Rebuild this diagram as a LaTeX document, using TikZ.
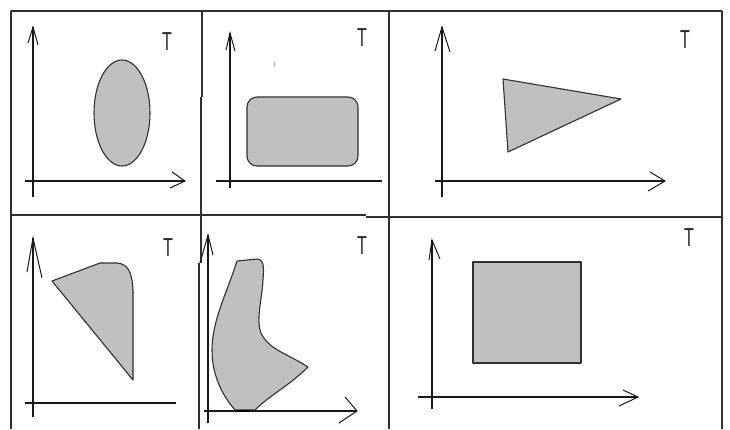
\documentclass[tikz,border=0pt]{standalone}
\usepackage{fontspec}
\setmainfont{Liberation Sans}
\definecolor{shade}{HTML}{C0C0C0}
\definecolor{ink}{HTML}{303030}
\newcommand{\Tmark}{\scalebox{0.62}[1]{T}}
\begin{document}
\begin{tikzpicture}[x=1pt,y=-1pt,
  frame/.style={line width=1.4pt, draw=ink},
  axis/.style={line width=1.3pt, draw=black!90},
  tipline/.style={line width=1pt, draw=black!90},
  region/.style={draw=ink, line width=1.1pt, fill=shade, line join=round},
  tlabel/.style={inner sep=0pt, font=\fontsize{26}{26}\selectfont, text=black!85}]
\useasboundingbox (0,0) rectangle (730,429);
% frame lines
\draw[frame] (11,11) -- (722,11);
\draw[frame] (11,11) -- (11,429);
\draw[frame] (722,11) -- (722,429);
\draw[frame] (389,11) -- (389,429);
\draw[frame] (202,11) -- (202,97) (201,97) -- (201,263) (199,263) -- (199,429);
\draw[frame] (11,215) -- (366,215) (366,217) -- (722,217);

% ---------- panel 1 ----------
\coordinate (a1y0) at (33,197); \coordinate (a1y1) at (33,27);
\coordinate (a1x0) at (25,181); \coordinate (a1x1) at (185,181);
\draw[axis] (a1y0) -- (a1y1);
\draw[axis] (a1x0) -- (a1x1);
\draw[tipline] (28,43) -- (a1y1) -- (38,45);
\draw[tipline] (172,172) -- (a1x1) -- (170,188);
\draw[region] (122,113) ellipse [x radius=28, y radius=53];
\node[tlabel] (t1) at (167,42) {\Tmark};

% ---------- panel 2 ----------
\coordinate (a2y0) at (230,188); \coordinate (a2y1) at (230,33);
\coordinate (a2x0) at (216,181); \coordinate (a2x1) at (382,181);
\draw[axis] (a2y0) -- (a2y1);
\draw[axis] (a2x0) -- (a2x1);
\draw[tipline] (226,50) -- (a2y1) -- (235,51);
\draw[region, rounded corners=10pt] (247,97) rectangle (358,166);
\draw[line width=0.8pt, draw=black!35] (274,62) -- (274,67);
\node[tlabel] (t2) at (362,38) {\Tmark};

% ---------- panel 3 ----------
\coordinate (a3y0) at (442,197); \coordinate (a3y1) at (442,27);
\coordinate (a3x0) at (435,181); \coordinate (a3x1) at (665,181);
\draw[axis] (a3y0) -- (a3y1);
\draw[axis] (a3x0) -- (a3x1);
\draw[tipline] (435,51) -- (a3y1) -- (450,52);
\draw[tipline] (650,172) -- (a3x1) -- (648,191);
\draw[region] (503,79) -- (621,99) -- (508,152) -- cycle;
\node[tlabel] (t3) at (685,40) {\Tmark};

% ---------- panel 4 ----------
\coordinate (a4y0) at (33,417); \coordinate (a4y1) at (33,238);
\coordinate (a4x0) at (25,403); \coordinate (a4x1) at (176,403);
\draw[axis] (a4y0) -- (a4y1);
\draw[axis] (a4x0) -- (a4x1);
\draw[tipline] (27,272) -- (a4y1) -- (42,278);
\draw[region] (52,281) -- (100,263) -- (117,263)
  .. controls (128,264) and (132,272) .. (133,290)
  -- (133,380) -- cycle;
\node[tlabel] (t4) at (168,248) {\Tmark};

% ---------- panel 5 ----------
\coordinate (a5y0) at (208,423); \coordinate (a5y1) at (208,235);
\coordinate (a5x0) at (204,411); \coordinate (a5x1) at (357,411);
\draw[region] (237,261) -- (257,259)
  .. controls (264,260) and (264,266) .. (263,280)
  .. controls (262,300) and (255,322) .. (262,335)
  .. controls (270,350) and (290,355) .. (308,367)
  .. controls (290,385) and (270,395) .. (255,410)
  -- (235,410)
  .. controls (222,395) and (212,375) .. (212,350)
  .. controls (212,320) and (228,290) .. (237,261) -- cycle;
\draw[axis] (a5y0) -- (a5y1);
\draw[axis] (a5x0) -- (a5x1);
\draw[line width=2.6pt, draw=black] (236,411) -- (250,411);
\draw[tipline] (200,263) -- (a5y1) -- (213,255);
\draw[tipline] (345,397) -- (a5x1) -- (339,423);
\node[tlabel] (t5) at (362,246) {\Tmark};

% ---------- panel 6 ----------
\coordinate (a6y0) at (432,409); \coordinate (a6y1) at (432,240);
\coordinate (a6x0) at (418,397); \coordinate (a6x1) at (638,397);
\draw[axis] (a6y0) -- (a6y1);
\draw[axis] (a6x0) -- (a6x1);
\draw[tipline] (429,260) -- (a6y1) -- (440,259);
\draw[tipline] (623,390) -- (a6x1) -- (619,406);
\draw[region] (473,262) rectangle (581,363);
\node[tlabel] (t6) at (689,238) {\Tmark};
\end{tikzpicture}
\end{document}
